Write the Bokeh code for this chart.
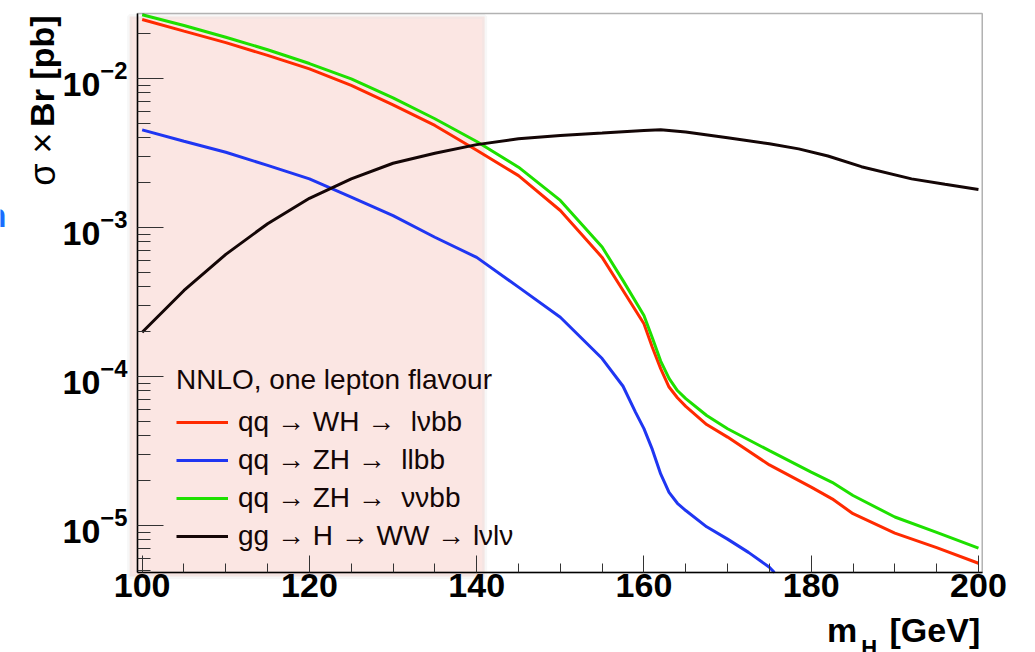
import math
from bokeh.plotting import figure
from bokeh.models import (Range1d, SingleIntervalTicker, LogTicker, Label, Legend,
                          LegendItem, BoxAnnotation)
from bokeh.embed import file_html
from bokeh.resources import INLINE

# ---------------- data ----------------
MH_WH = [100, 105, 110, 115, 120, 125, 130, 135, 140, 145, 150, 155, 157.5, 160, 161, 162,
         163, 164, 165, 167.5, 170, 175, 180, 182.5, 185, 190, 195, 200]
WH_LNUBB = [2.49e-2, 2.08e-2, 1.74e-2, 1.43e-2, 1.16e-2, 8.98e-3, 6.66e-3, 4.84e-3, 3.3e-3,
            2.23e-3, 1.30e-3, 6.3e-4, 3.78e-4, 2.26e-4, 1.57e-4, 1.13e-4, 8.5e-5, 7.2e-5,
            6.3e-5, 4.76e-5, 3.92e-5, 2.55e-5, 1.81e-5, 1.51e-5, 1.2e-5, 8.9e-6, 7.1e-6, 5.58e-6]
ZH_NUNUBB = [2.68e-2, 2.27e-2, 1.89e-2, 1.56e-2, 1.26e-2, 9.95e-3, 7.42e-3, 5.37e-3, 3.78e-3,
             2.54e-3, 1.52e-3, 7.4e-4, 4.4e-4, 2.57e-4, 1.82e-4, 1.27e-4, 9.7e-5, 8.05e-5,
             7.1e-5, 5.47e-5, 4.46e-5, 3.18e-5, 2.28e-5, 1.95e-5, 1.59e-5, 1.14e-5, 9.0e-6, 7.05e-6]
MH_ZLL = [100, 105, 110, 115, 120, 125, 130, 135, 140, 145, 150, 155, 157.5, 159, 160, 161,
          162, 163, 164, 165, 167.5, 170, 172.5, 175, 175.6]
ZH_LLBB = [4.52e-3, 3.79e-3, 3.2e-3, 2.61e-3, 2.12e-3, 1.6e-3, 1.2e-3, 8.6e-4, 6.3e-4, 3.98e-4,
           2.5e-4, 1.32e-4, 8.6e-5, 5.75e-5, 4.47e-5, 3.24e-5, 2.22e-5, 1.67e-5, 1.41e-5,
           1.26e-5, 9.8e-6, 8.1e-6, 6.6e-6, 5.25e-6, 4.84e-6]
MH_WW = [100, 105, 110, 115, 120, 125, 130, 135, 140, 145, 150, 155, 160, 162, 165, 170, 175,
         178.5, 182, 186, 192, 196, 200]
GG_WW = [1.98e-4, 3.78e-4, 6.6e-4, 1.06e-3, 1.57e-3, 2.12e-3, 2.7e-3, 3.15e-3, 3.6e-3, 3.94e-3,
         4.14e-3, 4.3e-3, 4.48e-3, 4.53e-3, 4.38e-3, 4.0e-3, 3.65e-3, 3.37e-3, 3.02e-3, 2.56e-3,
         2.12e-3, 1.95e-3, 1.8e-3]

SERIES_LABELS = ["qq \u2192 WH \u2192 \u00a0l\u03bdbb", "qq \u2192 ZH \u2192 \u00a0llbb",
                 "qq \u2192 ZH \u2192 \u00a0\u03bd\u03bdbb", "gg \u2192 H \u2192 WW \u2192 l\u03bdl\u03bd"]
LEGEND_TITLE = "NNLO, one lepton flavour"
SHADE_MH = [98.5, 140.95]
SHADE_XS = [4.55e-6, 2.61e-2]

# plotted region (axes box) and the full visible window in data units
X_START, X_END = 99.44, 200.45
Y_START, Y_END = 4.84e-6, 2.73e-2
X_VIEW = (83.06, 206.82)
Y_VIEW = (1.405e-6, 3.338e-2)

FONT = "Liberation Sans"
INK = "#140606"

p = figure(width=1035, height=652, output_backend="svg", toolbar_location=None,
           y_axis_type="log", x_range=Range1d(*X_VIEW), y_range=Range1d(*Y_VIEW),
           min_border=0, min_border_left=0, min_border_right=0, min_border_top=0,
           min_border_bottom=0)
p.title.visible = False
p.background_fill_color = "white"
p.border_fill_color = "white"
p.outline_line_color = None
p.xgrid.visible = False
p.ygrid.visible = False

# shaded low-mass band
p.add_layout(BoxAnnotation(left=SHADE_MH[0], right=SHADE_MH[1], bottom=SHADE_XS[0], top=SHADE_XS[1],
                           fill_color="#fbe6e3", fill_alpha=1.0, line_color="#e5e5e5",
                           line_width=5, level="underlay"))

r_red = p.line(MH_WH, WH_LNUBB, line_color="#ff2a00", line_width=3)
r_blue = p.line(MH_ZLL, ZH_LLBB, line_color="#1f36f2", line_width=3)
r_green = p.line(MH_WH, ZH_NUNUBB, line_color="#1ee000", line_width=3)
r_black = p.line(MH_WW, GG_WW, line_color=INK, line_width=3)

# axes box (frame of the plotted region)
p.add_layout(BoxAnnotation(left=X_START, right=X_END, bottom=Y_START, top=Y_END,
                           fill_alpha=0, line_color="black", line_width=1.5, level="annotation"))

# axes
xa = p.xaxis[0]
xa.fixed_location = Y_START
xa.bounds = (X_START, X_END)
xa.ticker = SingleIntervalTicker(interval=20, num_minor_ticks=4)
xa.major_tick_in = 17
xa.major_tick_out = 0
xa.minor_tick_in = 9
xa.minor_tick_out = 0
xa.axis_line_width = 1.5
xa.major_tick_line_color = "#333333"
xa.minor_tick_line_color = "#333333"
xa.major_label_text_font = FONT
xa.major_label_text_font_style = "bold"
xa.major_label_text_font_size = "34px"
xa.major_label_text_color = "black"
xa.major_label_standoff = 2

ya = p.yaxis[0]
ya.fixed_location = X_START
ya.bounds = (Y_START, Y_END)
ya.ticker = LogTicker(num_minor_ticks=10)
ya.major_tick_in = 26
ya.major_tick_out = 0
ya.minor_tick_in = 13
ya.minor_tick_out = 0
ya.axis_line_width = 1.5
ya.major_tick_line_color = "#333333"
ya.minor_tick_line_color = "#333333"
ya.major_label_text_font = FONT
ya.major_label_text_font_style = "bold"
ya.major_label_text_font_size = "34px"
ya.major_label_text_color = "black"
ya.major_label_standoff = 10

# axis titles
p.add_layout(Label(x=X_START, y=Y_END, x_offset=-95, y_offset=-2, angle=math.pi / 2,
                   text="Br [pb]", text_align="right", text_baseline="middle",
                   text_font=FONT, text_font_style="bold", text_font_size="34px",
                   text_color="black"))
p.add_layout(Label(x=X_START, y=Y_END, x_offset=-95, y_offset=-119, angle=math.pi / 2,
                   text="\u03c3 \u00d7", text_align="right", text_baseline="middle",
                   text_font=FONT, text_font_style="normal", text_font_size="36px",
                   text_color="black"))
p.add_layout(Label(x=X_END, y=Y_START, x_offset=-2, y_offset=-58, text="[GeV]",
                   text_align="right", text_baseline="alphabetic", text_font=FONT,
                   text_font_style="bold", text_font_size="34px", text_color="black"))
p.add_layout(Label(x=X_END, y=Y_START, x_offset=-105, y_offset=-75, text="H",
                   text_align="right", text_baseline="alphabetic", text_font=FONT,
                   text_font_style="bold", text_font_size="22px", text_color="black"))
p.add_layout(Label(x=X_END, y=Y_START, x_offset=-125, y_offset=-58, text="m",
                   text_align="right", text_baseline="alphabetic", text_font=FONT,
                   text_font_style="bold", text_font_size="34px", text_color="black"))

# cropped blue fragment at the far left
p.add_layout(Label(x=X_START, y=1e-3, x_offset=-131, y_offset=13, text="n",
                   text_align="right", text_baseline="alphabetic", text_font=FONT,
                   text_font_style="bold", text_font_size="34px", text_color="#1a6cff"))

legend = Legend(
    items=[LegendItem(label=SERIES_LABELS[0], renderers=[r_red]),
           LegendItem(label=SERIES_LABELS[1], renderers=[r_blue]),
           LegendItem(label=SERIES_LABELS[2], renderers=[r_green]),
           LegendItem(label=SERIES_LABELS[3], renderers=[r_black])],
    location=(176, 100), title=LEGEND_TITLE,
    background_fill_alpha=0, border_line_alpha=0, padding=0, margin=0, spacing=6,
    glyph_width=52, glyph_height=30, label_standoff=10, label_height=30,
    label_text_font=FONT, label_text_font_size="28px", label_text_color=INK,
    title_text_font=FONT, title_text_font_size="28px", title_text_font_style="normal",
    title_text_color=INK, title_standoff=10)
p.add_layout(legend)

open("out.html", "w").write(file_html(p, INLINE))
